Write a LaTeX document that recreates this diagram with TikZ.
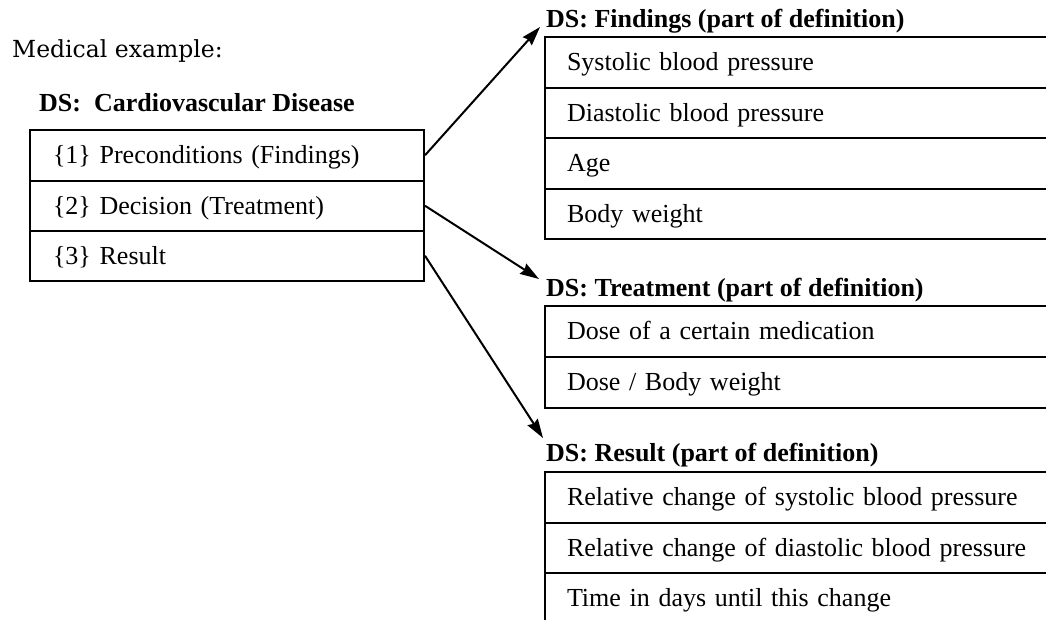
\documentclass[tikz,border=0pt]{standalone}
\usepackage{fontspec}
\setmainfont{Liberation Serif}
\newfontfamily\centfont{DejaVu Serif}
\usetikzlibrary{arrows.meta}
\tikzset{
  lw/.style={line width=2pt},
  rowL/.style={draw, lw, anchor=north west, minimum height=50.5pt, text width=348pt, inner xsep=23pt, inner ysep=0pt, align=left, text height=18pt, text depth=1pt, font=\fontsize{26}{30}\selectfont},
  rowR/.style={draw, lw, anchor=north west, minimum height=50.5pt, text width=480pt, inner xsep=22pt, inner ysep=0pt, align=left, text height=18pt, text depth=1pt, font=\fontsize{26}{30}\selectfont},
  ttl/.style={anchor=base west, inner sep=0pt, font=\fontsize{26}{30}\selectfont\bfseries},
  conn/.style={lw, -{Stealth[length=19pt,width=12pt,inset=2pt]}}
}
\begin{document}
\begin{tikzpicture}[x=1pt,y=-1pt]
\clip (0,0) rectangle (1046,619);
\useasboundingbox (0,0) rectangle (1046,619);

\node[anchor=base west, inner sep=0pt, font=\fontsize{23.5}{27}\centfont] (med) at (12,57) {Medical example:};

% left box
\node[ttl] (tl) at (39,111) {DS:\ \ Cardiovascular Disease};
\node[rowL] (r1) at (29,129) {\{1\} Preconditions (Findings)};
\node[rowL] (r2) at (29,179.5) {\{2\} Decision (Treatment)};
\node[rowL] (r3) at (29,229.5) {\{3\} Result};

% findings
\node[ttl] (tf) at (546,27) {DS: Findings (part of definition)};
\node[rowR] (f1) at (544,36) {Systolic blood pressure};
\node[rowR] (f2) at (544,86.5) {Diastolic blood pressure};
\node[rowR] (f3) at (544,137) {Age};
\node[rowR] (f4) at (544,187.5) {Body weight};

% treatment
\node[ttl] (tt) at (546,296) {DS: Treatment (part of definition)};
\node[rowR] (t1) at (544,305) {Dose of a certain medication};
\node[rowR] (t2) at (544,356) {Dose / Body weight};

% result
\node[ttl] (tr) at (546,461) {DS: Result (part of definition)};
\node[rowR] (s1) at (544,471) {Relative change of systolic blood pressure};
\node[rowR] (s2) at (544,521.5) {Relative change of diastolic blood pressure};
\node[rowR] (s3) at (544,572) {Time in days until this change};

% arrow tips
\coordinate (tipF) at (540,27);
\coordinate (tipT) at (539,279);
\coordinate (tipR) at (543,438);

\draw[conn] (r1.east) -- (tipF);
\draw[conn] (r2.east) -- (tipT);
\draw[conn] (r3.east) -- (tipR);
\end{tikzpicture}
\end{document}
